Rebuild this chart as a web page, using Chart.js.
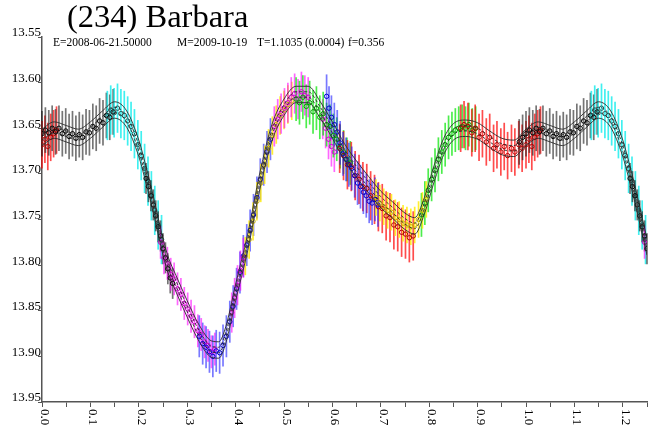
<!DOCTYPE html>
<html>
<head>
<meta charset="utf-8">
<script src="https://cdn.jsdelivr.net/npm/chart.js@4.4.0/dist/chart.umd.min.js"></script>
<style>
  body { margin: 0; background: #fff; }
  #wrap { position: relative; width: 660px; height: 428px; font-family: 'Liberation Serif', serif; color: #000; }
  #lc { display: block; }
  #title { position: absolute; left: 67px; top: 0px; font-size: 32.5px; line-height: 32px; white-space: nowrap; }
  .sub { position: absolute; top: 36px; font-size: 11.5px; line-height: 13px; white-space: nowrap; }
</style>
</head>
<body>
<div id="wrap">
  <canvas id="lc" width="660" height="428"></canvas>
  <div id="title">(234) Barbara</div>
  <div class="sub" style="left:53px">E=2008-06-21.50000</div>
  <div class="sub" style="left:177px">M=2009-10-19</div>
  <div class="sub" style="left:257px">T=1.1035 (0.0004)</div>
  <div class="sub" style="left:348px">f=0.356</div>
</div>
<script>
// tick labels
const xTickLabels = ['0.0', '0.1', '0.2', '0.3', '0.4', '0.5', '0.6', '0.7', '0.8', '0.9', '1.0', '1.1', '1.2'];

// fitted curve (phase, mag)
const fitPhase = [0.000, 0.025, 0.050, 0.075, 0.100, 0.125, 0.150, 0.175, 0.200, 0.212, 0.225, 0.237, 0.250,
  0.262, 0.275, 0.300, 0.325, 0.350, 0.365, 0.380, 0.400, 0.425, 0.450, 0.475, 0.500, 0.525, 0.550, 0.575,
  0.600, 0.625, 0.650, 0.675, 0.700, 0.725, 0.750, 0.770, 0.790, 0.810, 0.830, 0.850, 0.875, 0.900, 0.925,
  0.950, 0.975, 1.000];
const fitMag = [13.660, 13.652, 13.656, 13.660, 13.652, 13.640, 13.630, 13.640, 13.672, 13.695, 13.722, 13.750, 13.780,
  13.802, 13.818, 13.848, 13.875, 13.892, 13.893, 13.876, 13.830, 13.775, 13.708, 13.655, 13.627, 13.613, 13.613, 13.630,
  13.652, 13.676, 13.695, 13.712, 13.728, 13.740, 13.752, 13.757, 13.735, 13.700, 13.670, 13.654, 13.650, 13.653, 13.662,
  13.670, 13.672, 13.660];
const fitOffsets = [-0.009, -0.003, 0.003, 0.009];

// sessions: [phase, mag]
const red1 = [[0.865, 13.650], [0.872, 13.646], [0.880, 13.648], [0.888, 13.655], [0.895, 13.650], [0.903, 13.660],
  [0.910, 13.656], [0.918, 13.665], [0.925, 13.660], [0.933, 13.672], [0.940, 13.668], [0.948, 13.676], [0.955, 13.670],
  [0.962, 13.680], [0.970, 13.672], [0.977, 13.676], [0.985, 13.668], [0.992, 13.672], [0.000, 13.668], [0.006, 13.662],
  [0.012, 13.670], [0.018, 13.660], [0.024, 13.656], [0.030, 13.652]];
const black1 = [[0.986, 13.665], [0.993, 13.660], [0.000, 13.656], [0.007, 13.652], [0.014, 13.655], [0.021, 13.650],
  [0.028, 13.654], [0.035, 13.650], [0.042, 13.656], [0.049, 13.653], [0.056, 13.659], [0.063, 13.656], [0.070, 13.661],
  [0.077, 13.657], [0.084, 13.660], [0.091, 13.654], [0.098, 13.655], [0.105, 13.648], [0.112, 13.650], [0.119, 13.642],
  [0.126, 13.644], [0.133, 13.636], [0.140, 13.638], [0.147, 13.632]];
const cyan1 = [[0.135, 13.636], [0.142, 13.630], [0.149, 13.633], [0.156, 13.628], [0.163, 13.634], [0.170, 13.636],
  [0.177, 13.642], [0.184, 13.648], [0.191, 13.656], [0.198, 13.668], [0.205, 13.680], [0.212, 13.694], [0.219, 13.708],
  [0.226, 13.724], [0.233, 13.740], [0.240, 13.756], [0.247, 13.772]];
const black2 = [[0.215, 13.705], [0.220, 13.714], [0.225, 13.724], [0.230, 13.734], [0.235, 13.746], [0.240, 13.758],
  [0.245, 13.768], [0.250, 13.782], [0.255, 13.792], [0.260, 13.804], [0.265, 13.814], [0.270, 13.820]];
const magenta1 = [[0.245, 13.775], [0.252, 13.792], [0.259, 13.798], [0.266, 13.810], [0.273, 13.815], [0.280, 13.826],
  [0.287, 13.832], [0.294, 13.842], [0.301, 13.848], [0.308, 13.856], [0.315, 13.862], [0.322, 13.872], [0.329, 13.876],
  [0.336, 13.884], [0.343, 13.888], [0.350, 13.895], [0.357, 13.892]];
const blue1 = [[0.325, 13.878], [0.332, 13.886], [0.339, 13.890], [0.346, 13.895], [0.353, 13.900], [0.360, 13.894],
  [0.367, 13.896], [0.374, 13.888], [0.381, 13.878], [0.388, 13.862], [0.395, 13.845], [0.402, 13.826], [0.409, 13.808],
  [0.416, 13.790], [0.423, 13.778], [0.430, 13.762], [0.437, 13.745], [0.444, 13.726], [0.451, 13.706], [0.458, 13.690],
  [0.465, 13.676], [0.472, 13.662]];
const yellow1 = [[0.420, 13.790], [0.428, 13.772], [0.436, 13.752], [0.444, 13.730], [0.452, 13.710], [0.460, 13.690],
  [0.468, 13.672], [0.476, 13.658], [0.484, 13.646], [0.492, 13.636], [0.500, 13.630], [0.508, 13.624], [0.516, 13.620]];
const magenta2 = [[0.392, 13.852], [0.398, 13.836], [0.404, 13.822], [0.410, 13.806], [0.416, 13.792], [0.480, 13.648],
  [0.487, 13.640], [0.494, 13.634], [0.501, 13.628], [0.508, 13.622], [0.515, 13.616], [0.522, 13.612], [0.529, 13.618],
  [0.536, 13.610], [0.543, 13.614], [0.550, 13.616], [0.580, 13.640], [0.586, 13.650], [0.592, 13.662], [0.598, 13.670],
  [0.604, 13.676]];
const green1 = [[0.525, 13.618], [0.532, 13.622], [0.539, 13.616], [0.546, 13.626], [0.553, 13.622], [0.560, 13.632],
  [0.567, 13.628], [0.574, 13.638], [0.581, 13.634], [0.588, 13.646], [0.595, 13.648], [0.602, 13.658], [0.609, 13.662],
  [0.616, 13.670], [0.623, 13.676], [0.630, 13.684], [0.637, 13.688]];
const red2 = [[0.615, 13.672], [0.623, 13.680], [0.631, 13.690], [0.639, 13.692], [0.647, 13.702], [0.655, 13.706],
  [0.663, 13.714], [0.671, 13.716], [0.679, 13.724], [0.687, 13.728], [0.695, 13.736], [0.703, 13.738], [0.711, 13.746],
  [0.719, 13.748], [0.727, 13.756], [0.735, 13.758], [0.743, 13.764], [0.751, 13.766], [0.759, 13.770], [0.767, 13.768]];
const blue2 = [[0.588, 13.615], [0.593, 13.628], [0.598, 13.638], [0.604, 13.646], [0.610, 13.654], [0.616, 13.666],
  [0.622, 13.678], [0.628, 13.684], [0.634, 13.690], [0.640, 13.694], [0.646, 13.702], [0.652, 13.710], [0.658, 13.714],
  [0.664, 13.720], [0.670, 13.724], [0.676, 13.730], [0.682, 13.732], [0.688, 13.728], [0.694, 13.734]];
const yellow2 = [[0.690, 13.726], [0.698, 13.732], [0.706, 13.736], [0.714, 13.740], [0.722, 13.742], [0.730, 13.748],
  [0.738, 13.750], [0.746, 13.754], [0.754, 13.756], [0.762, 13.758], [0.770, 13.756], [0.778, 13.750], [0.786, 13.740],
  [0.794, 13.728]];
const green2 = [[0.784, 13.745], [0.791, 13.732], [0.798, 13.718], [0.805, 13.706], [0.812, 13.696], [0.819, 13.684],
  [0.826, 13.676], [0.833, 13.668], [0.840, 13.660], [0.847, 13.656], [0.854, 13.652], [0.861, 13.650], [0.868, 13.648],
  [0.875, 13.650], [0.882, 13.646], [0.889, 13.652], [0.896, 13.650]];

// error bar half lengths (mag), same order as the session list below
const sessionErr = [0.024, 0.026, 0.025, 0.027, 0.017, 0.018, 0.023, 0.021, 0.022, 0.024, 0.027, 0.024, 0.020];

// session list in drawing order (later = on top)
const sessions = [
  { pts: green2,   bar: 'rgba(0,230,0,0.7)',     mark: '#009900' },
  { pts: red1,     bar: 'rgba(255,0,0,0.7)',     mark: '#b00000' },
  { pts: black1,   bar: 'rgba(25,25,25,0.6)',    mark: '#000000' },
  { pts: cyan1,    bar: 'rgba(0,235,235,0.75)',  mark: '#205555' },
  { pts: black2,   bar: 'rgba(25,25,25,0.6)',    mark: '#000000' },
  { pts: magenta1, bar: 'rgba(255,0,255,0.6)',   mark: '#cc00cc' },
  { pts: blue1,    bar: 'rgba(30,30,255,0.6)',   mark: '#0000cc' },
  { pts: yellow1,  bar: 'rgba(255,235,0,0.8)',   mark: '#c8b000' },
  { pts: magenta2, bar: 'rgba(255,0,255,0.6)',   mark: '#cc00cc' },
  { pts: green1,   bar: 'rgba(0,230,0,0.7)',     mark: '#009900' },
  { pts: red2,     bar: 'rgba(255,0,0,0.7)',     mark: '#b00000' },
  { pts: blue2,    bar: 'rgba(30,30,255,0.6)',   mark: '#0000cc' },
  { pts: yellow2,  bar: 'rgba(255,235,0,0.8)',   mark: '#c8b000' }
];

// phase 0..0.25 is shown again at 1..1.25
function toPoints(list) {
  const out = list.map(p => ({ x: p[0], y: p[1] }));
  list.forEach(p => { if (p[0] + 1 <= 1.25) out.push({ x: p[0] + 1, y: p[1] }); });
  return out;
}

const fitPts = fitPhase.map((p, i) => [p, fitMag[i]]).filter(p => p[0] < 1);
const fitDatasets = fitOffsets.map(off => ({
  data: toPoints(fitPts.map(p => [p[0], p[1] + off])).sort((a, b) => a.x - b.x),
  showLine: true,
  borderColor: '#2a2a2a',
  borderWidth: 0.9,
  borderDash: Math.abs(off) < 0.005 ? [3, 2] : [],
  pointRadius: 0,
  cubicInterpolationMode: 'monotone',
  fill: false
}));

const sessionDatasets = sessions.map((s, i) => ({
  data: toPoints(s.pts),
  err: sessionErr[i],
  barColor: s.bar,
  showLine: false,
  pointStyle: 'circle',
  pointRadius: 2.2,
  pointBorderWidth: 1,
  pointBorderColor: s.mark,
  pointBackgroundColor: 'rgba(0,0,0,0)'
})).reverse();

// vertical error bars drawn from each session's points
const errorBars = {
  id: 'errorBars',
  beforeDatasetsDraw(chart) {
    const { ctx, scales: { x, y } } = chart;
    ctx.save();
    ctx.lineWidth = 1.7;
    sessionDatasets.slice().reverse().forEach(ds => {
      ctx.strokeStyle = ds.barColor;
      ds.data.forEach(p => {
        const px = x.getPixelForValue(p.x);
        ctx.beginPath();
        ctx.moveTo(px, y.getPixelForValue(p.y - ds.err));
        ctx.lineTo(px, y.getPixelForValue(p.y + ds.err));
        ctx.stroke();
      });
    });
    ctx.restore();
  }
};

// x labels turned clockwise, as in the original
const xLabels = {
  id: 'xLabels',
  afterDraw(chart) {
    const { ctx, scales: { x } } = chart;
    ctx.save();
    ctx.font = '13px "Liberation Serif"';
    ctx.fillStyle = '#000';
    ctx.textAlign = 'left';
    ctx.textBaseline = 'alphabetic';
    xTickLabels.forEach(t => {
      const px = x.getPixelForValue(parseFloat(t));
      ctx.save();
      ctx.translate(px - 1, x.top + 7);
      ctx.rotate(Math.PI / 2);
      ctx.fillText(t, 0, 0);
      ctx.restore();
    });
    ctx.restore();
  }
};

new Chart(document.getElementById('lc').getContext('2d'), {
  type: 'scatter',
  data: { datasets: fitDatasets.concat(sessionDatasets) },
  options: {
    responsive: false,
    animation: false,
    layout: { padding: { top: 37, right: 13, left: 0, bottom: 0 } },
    plugins: { legend: { display: false }, tooltip: { enabled: false } },
    scales: {
      x: {
        type: 'linear',
        min: 0,
        max: 1.25,
        afterFit: s => { s.height = 26; },
        ticks: { stepSize: 0.05, autoSkip: false, maxRotation: 0, minRotation: 0, color: 'rgba(0,0,0,0)', font: { size: 1 } },
        grid: { drawOnChartArea: false, drawTicks: true, tickLength: 5, color: '#555' },
        border: { color: '#555', width: 1.5 }
      },
      y: {
        type: 'linear',
        reverse: true,
        min: 13.55,
        max: 13.95,
        afterFit: s => { s.width = 42; },
        ticks: {
          stepSize: 0.05,
          padding: -3,
          labelOffset: -4,
          color: '#000',
          font: { family: 'Liberation Serif', size: 13 },
          callback: v => v.toFixed(2)
        },
        grid: { drawOnChartArea: false, drawTicks: true, tickLength: 4, color: '#555' },
        border: { color: '#555', width: 1.5 }
      }
    }
  },
  plugins: [errorBars, xLabels]
});
</script>
</body>
</html>
